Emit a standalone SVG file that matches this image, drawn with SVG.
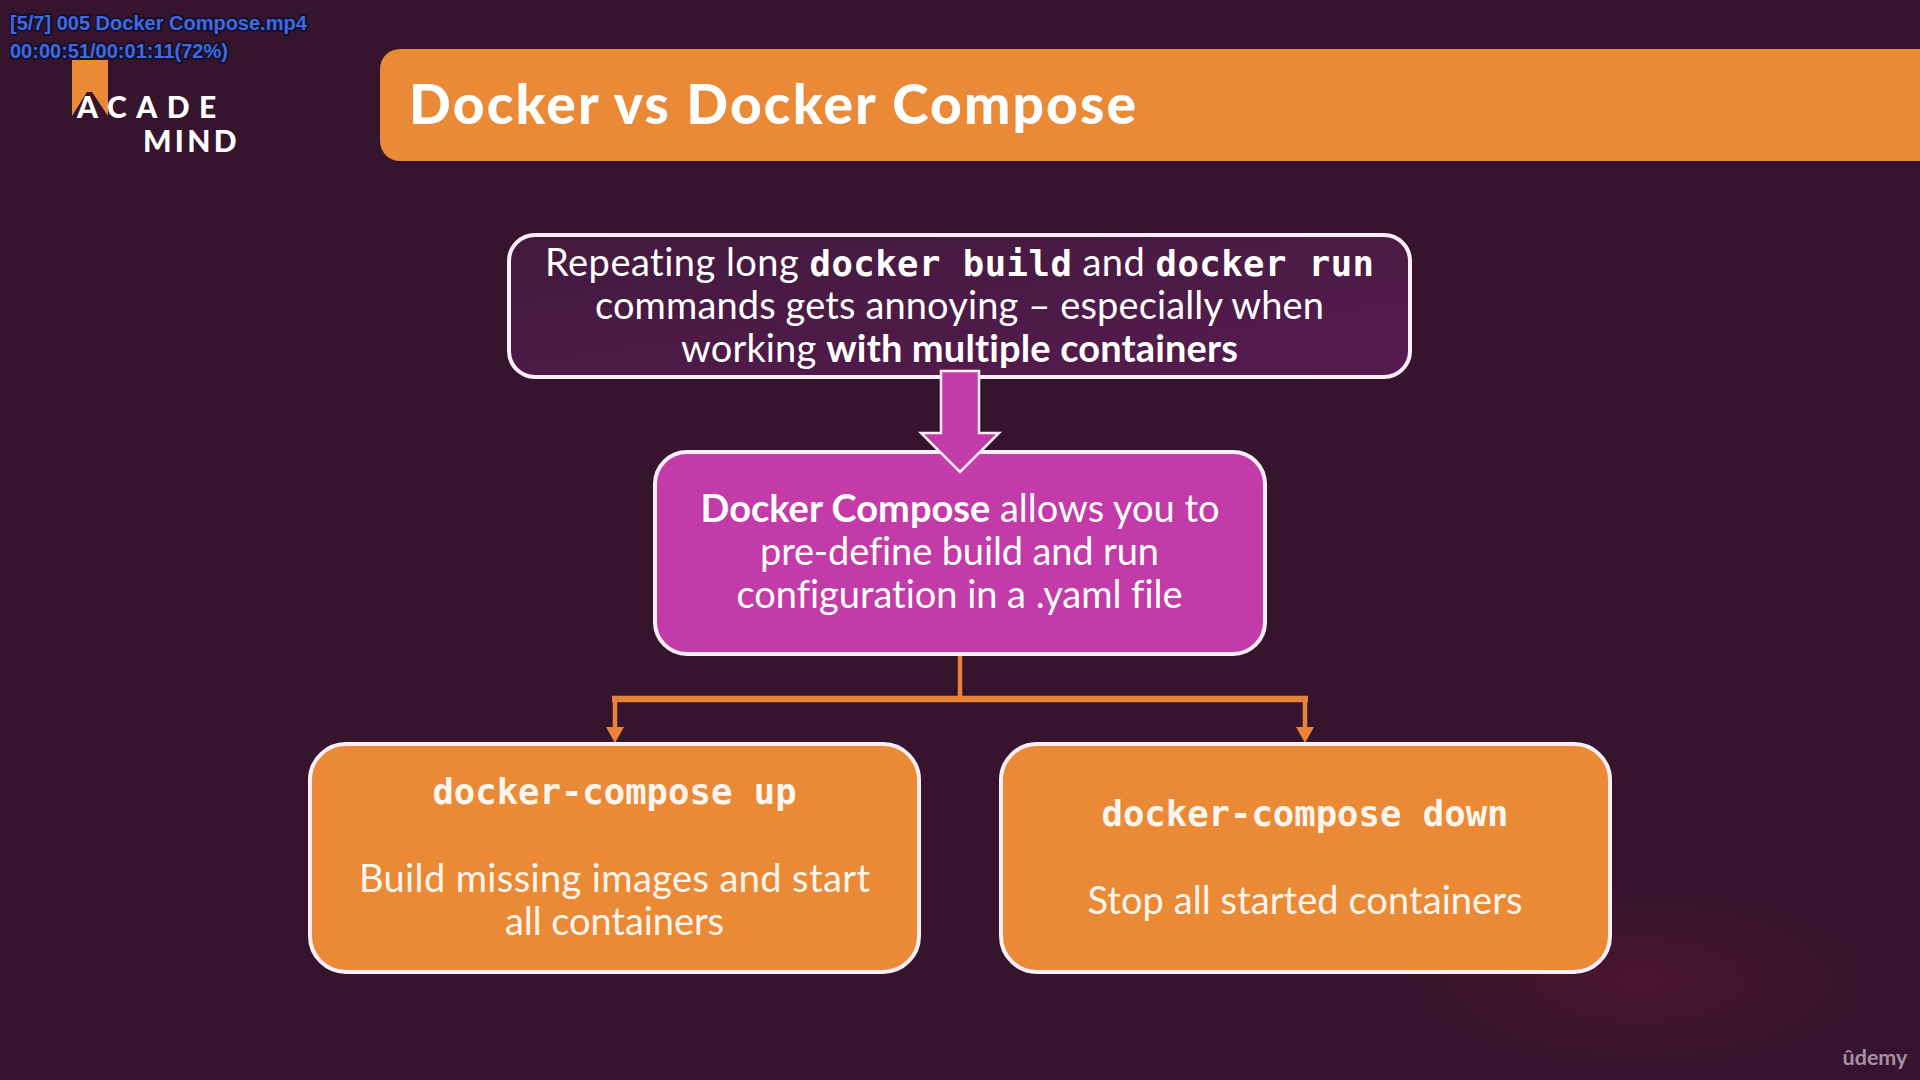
<svg xmlns="http://www.w3.org/2000/svg" width="1920" height="1080" viewBox="0 0 1920 1080">
<defs>
<linearGradient id="g1" x1="0" y1="0" x2="1" y2="1"><stop offset="0" stop-color="#421a3c"/><stop offset="1" stop-color="#561b50"/></linearGradient>
<radialGradient id="blot"><stop offset="0" stop-color="#5a1630" stop-opacity=".55"/><stop offset="1" stop-color="#5a1630" stop-opacity="0"/></radialGradient>
</defs>
<style>
text{font-family:Lato,"Liberation Sans",sans-serif;text-anchor:middle;fill:#fff;font-variant-ligatures:none}
.t{font-size:38px}
.b{font-weight:700}
.c{fill:#fff6ee}
.m{font-family:"DejaVu Sans Mono","Liberation Mono",monospace;font-weight:700;font-size:35.6px}
.box{stroke:#fdeef8;stroke-width:4}
.o{fill:#ea8936}
.hud{font-family:"Liberation Sans",Arial,sans-serif;font-weight:700;font-size:20px;text-anchor:start;fill:#4169e1;stroke:#12102a;stroke-width:3.5px;paint-order:stroke;stroke-linejoin:round}
.logo{font-size:30px;font-weight:900;text-anchor:start}
</style>
<rect width="1920" height="1080" fill="#37142d"/>
<ellipse cx="1640" cy="980" rx="230" ry="90" fill="url(#blot)"/>
<g id="logo">
<path d="M72 60H108V116L92 92H87L72 116Z" fill="#ea8936"/>
<text class="logo" x="77" y="118" style="letter-spacing:9.5px">ACADE</text>
<text class="logo" x="143" y="152" style="letter-spacing:3.3px">MIND</text>
</g>
<g id="hud">
<text class="hud" x="10" y="30">[5/7] 005 Docker Compose.mp4</text>
<text class="hud" x="10" y="58">00:00:51/00:01:11(72%)</text>
</g>
<g id="title">
<path d="M1920 49H400a20 20 0 0 0-20 20V141a20 20 0 0 0 20 20H1920Z" fill="#ea8936"/>
<text x="772.500" y="124" style="font-size:55px;font-weight:900" textLength="727">Docker vs Docker Compose</text>
</g>
<g id="connectors">
<path d="M960 654V699M615 739V699M1305 739V699" fill="none" stroke="#e8833a" stroke-width="4.500"/>
<path d="M612 699H1308" fill="none" stroke="#e8833a" stroke-width="6.500"/>
<path d="M606 727H624L615 743ZM1296 727H1314L1305 743Z" fill="#e8833a"/>
</g>
<g id="node-problem">
<rect class="box" x="509" y="235" width="901" height="142" rx="26" fill="url(#g1)"/>
<text class="t" x="959.500" y="276" textLength="829">Repeating long <tspan class="m">docker build</tspan> and <tspan class="m">docker run</tspan></text>
<text class="t" x="959.500" y="319" textLength="729">commands gets annoying – especially when</text>
<text class="t" x="959.500" y="362" textLength="557">working <tspan class="b">with multiple containers</tspan></text>
</g>
<g id="node-compose">
<rect class="box" x="655" y="452" width="610" height="202" rx="32" fill="#c23ba8"/>
<text class="t" x="960" y="522" textLength="519"><tspan class="b">Docker Compose</tspan> allows you to</text>
<text class="t" x="959.500" y="565" textLength="399">pre-define build and run</text>
<text class="t" x="959.500" y="608" textLength="446">configuration in a .yaml file</text>
</g>
<g id="arrow-down">
<path d="M941 371H979V433H999L960 472L921 433H941Z" fill="#c23ba8" stroke="#fdeef8" stroke-width="2.500"/>
</g>
<g id="node-up">
<rect x="310" y="744" width="609" height="228" rx="36" class="box o"/>
<text class="m c" x="614.500" y="804">docker-compose up</text>
<text class="t c" x="614.500" y="892" textLength="511">Build missing images and start</text>
<text class="t c" x="614.500" y="935" textLength="219">all containers</text>
</g>
<g id="node-down">
<rect x="1001" y="744" width="609" height="228" rx="36" class="box o"/>
<text class="m c" x="1305" y="826">docker-compose down</text>
<text class="t c" x="1305" y="914" textLength="435">Stop all started containers</text>
</g>
<text id="udemy" x="1875" y="1065" style="font-size:21.500px;font-weight:700;fill:#a88fa4">ûdemy</text>
</svg>
